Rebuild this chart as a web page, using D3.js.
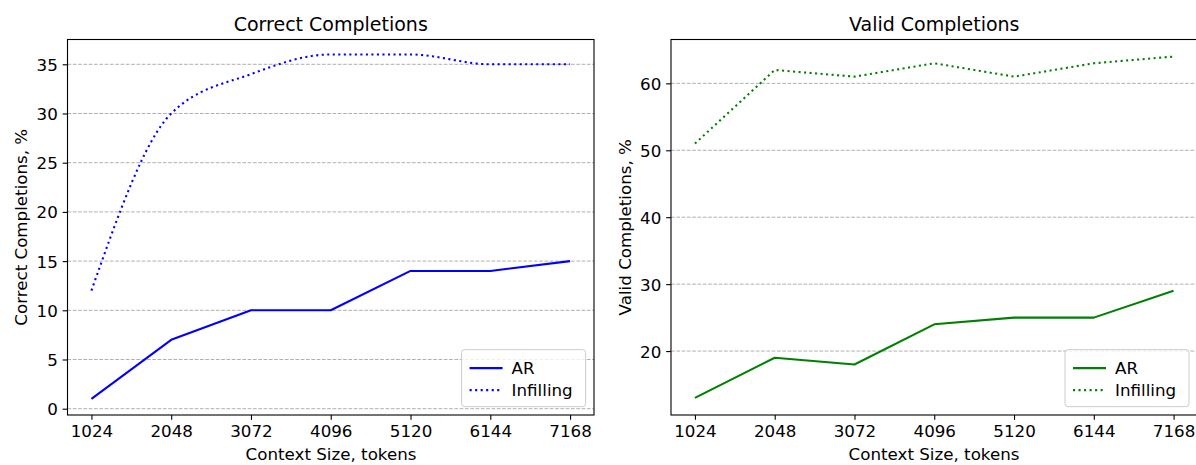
<!DOCTYPE html>
<html>
<head>
<meta charset="utf-8">
<script src="https://cdn.jsdelivr.net/npm/d3@7"></script>
<style>
  html, body { margin: 0; padding: 0; background: #fff; }
  svg { display: block; font-family: "DejaVu Sans", sans-serif; }
</style>
</head>
<body>
<svg id="chart" width="1196" height="465"></svg>
<script>
// ---- data ----
const contextSizes = [1024, 2048, 3072, 4096, 5120, 6144, 7168];
const correctAR = [1, 7, 10, 10, 14, 14, 15];
const correctInfilling = [12, 30, 34, 36, 36, 35, 35];
const validAR = [13, 19, 18, 24, 25, 25, 29];
const validInfilling = [51, 62, 61, 63, 61, 63, 64];
const correctTicks = [0, 5, 10, 15, 20, 25, 30, 35];
const validTicks = [20, 30, 40, 50, 60];
const seriesNames = ["AR", "Infilling"];

const svg = d3.select("#chart");
const FS = 16.7;
const TFS = 19;

function panel(opts) {
  const { left, right, top, bottom, yDomain, yTicks, ar, inf, color, title, ylabel, smoothInf } = opts;
  const g = svg.append("g");
  const x = d3.scaleLinear().domain([1024 - 0.05 * 6144, 7168 + 0.05 * 6144]).range([left, right]);
  const y = d3.scaleLinear().domain(yDomain).range([bottom, top]);

  // grid
  g.append("g").selectAll("line").data(yTicks).join("line")
    .attr("x1", left).attr("x2", right)
    .attr("y1", d => y(d)).attr("y2", d => y(d))
    .attr("stroke", "#b0b0b0").attr("stroke-width", 1)
    .attr("stroke-dasharray", "3.7,1.6");

  // lines
  const pts = (vals) => contextSizes.map((c, i) => [c, vals[i]]);
  const lineLin = d3.line().x(d => x(d[0])).y(d => y(d[1]));
  const lineSmooth = d3.line().x(d => x(d[0])).y(d => y(d[1])).curve(d3.curveMonotoneX);
  g.append("path").attr("d", lineLin(pts(ar))).attr("fill", "none")
    .attr("stroke", color).attr("stroke-width", 2.08).attr("stroke-linejoin", "round");
  g.append("path").attr("d", (smoothInf ? lineSmooth : lineLin)(pts(inf))).attr("fill", "none")
    .attr("stroke", color).attr("stroke-width", 2.08).attr("stroke-dasharray", "2.08,3.44");

  // axes
  const xAxis = d3.axisBottom(x).tickValues(contextSizes).tickFormat(d3.format("d"))
    .tickSizeInner(4.86).tickSizeOuter(0).tickPadding(4.86);
  const gx = g.append("g").attr("transform", `translate(0,${bottom})`).call(xAxis);
  const yAxis = d3.axisLeft(y).tickValues(yTicks).tickFormat(d3.format("d"))
    .tickSizeInner(4.86).tickSizeOuter(0).tickPadding(4.86);
  const gy = g.append("g").attr("transform", `translate(${left},0)`).call(yAxis);
  [gx, gy].forEach(a => {
    a.select(".domain").remove();
    a.selectAll(".tick line").attr("stroke", "#000").attr("stroke-width", 1.1);
    a.selectAll(".tick text").attr("font-size", FS).attr("fill", "#000")
      .attr("font-family", "DejaVu Sans");
  });
  gx.selectAll(".tick text").attr("dy", null).attr("y", 4.86 + 4.86 + 12.7);
  gy.selectAll(".tick text").attr("dy", "0.36em");

  // frame
  g.append("rect").attr("x", left).attr("y", top).attr("width", right - left).attr("height", bottom - top)
    .attr("fill", "none").attr("stroke", "#000").attr("stroke-width", 1.1);

  // title and labels
  g.append("text").attr("x", (left + right) / 2).attr("y", top - 8.3)
    .attr("text-anchor", "middle").attr("font-size", TFS).text(title);
  g.append("text").attr("x", opts.xlabelX).attr("y", 459.7)
    .attr("text-anchor", "middle").attr("font-size", FS).text("Context Size, tokens");
  g.append("text").attr("transform", `translate(${opts.ylabelX},${(top + bottom) / 2}) rotate(-90)`)
    .attr("text-anchor", "middle").attr("font-size", FS).text(ylabel);

  // legend
  const lw = 124, lh = 57;
  const lx = opts.legendRight - lw, ly = bottom - 8.35 - lh;
  const lg = g.append("g");
  lg.append("rect").attr("x", lx).attr("y", ly).attr("width", lw).attr("height", lh)
    .attr("rx", 3).attr("fill", "#fff").attr("fill-opacity", 0.8)
    .attr("stroke", "#cccccc").attr("stroke-width", 1);
  seriesNames.forEach((name, i) => {
    const yy = ly + 18.5 + i * 22;
    lg.append("line").attr("x1", lx + 8).attr("x2", lx + 41).attr("y1", yy).attr("y2", yy)
      .attr("stroke", color).attr("stroke-width", 2.08)
      .attr("stroke-dasharray", i === 1 ? "2.08,3.44" : null);
    lg.append("text").attr("x", lx + 50).attr("y", yy).attr("dy", "0.36em")
      .attr("font-size", FS).text(name);
  });
}

panel({
  left: 67.5, right: 594, top: 39.5, bottom: 415,
  yDomain: [-0.64, 37.52], yTicks: correctTicks,
  ar: correctAR, inf: correctInfilling, color: "#0000ff",
  title: "Correct Completions", ylabel: "Correct Completions, %",
  ylabelX: 27, xlabelX: 331, legendRight: 585.6, smoothInf: true
});
panel({
  left: 671, right: 1197.5, top: 39.5, bottom: 415,
  yDomain: [10.45, 66.55], yTicks: validTicks,
  ar: validAR, inf: validInfilling, color: "#008000",
  title: "Valid Completions", ylabel: "Valid Completions, %",
  ylabelX: 630.5, xlabelX: 934, legendRight: 1189, smoothInf: false
});
</script>
</body>
</html>
